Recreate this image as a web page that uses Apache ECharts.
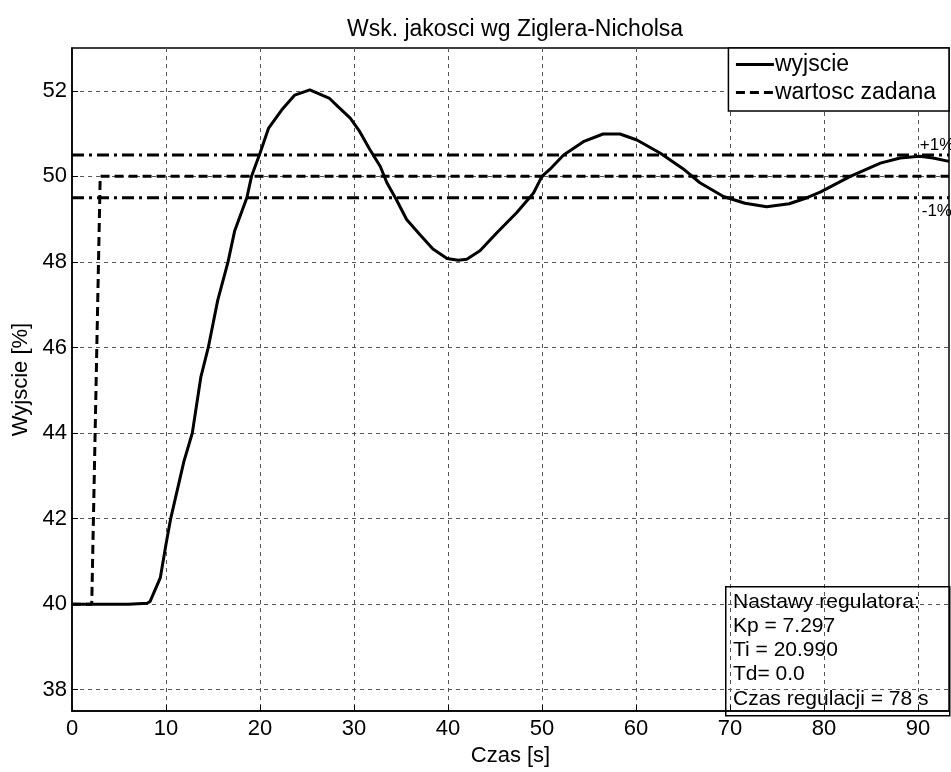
<!DOCTYPE html>
<html>
<head>
<meta charset="utf-8">
<script src="https://cdn.jsdelivr.net/npm/echarts@6/dist/echarts.min.js"></script>
<style>
html,body{margin:0;padding:0;background:#fff;}
#chart{width:951px;height:772px;}
</style>
</head>
<body>
<div id="chart"></div>
<script>
// ---- data ----
var timeOut = [0,2,4,6,8,8.3,9.4,10,10.5,11.9,12.8,13.7,14.5,15.5,16.6,17.3,18.6,19.1,20.0,20.9,22.3,23.7,25.3,27.4,28.3,29.6,30.6,31.7,32.8,33.5,34.5,35.6,37.0,38.4,39.9,41.1,42.0,43.4,45.2,47.3,49.1,50.0,51.0,52.3,54.4,56.5,58.3,60.1,62.6,65.0,66.8,69.3,71.6,73.9,76.3,78.2,79.6,82.8,86.0,88.1,90.2,91.6,93.3];
var wyjscie = [40,40,40,40,40.02,40.06,40.62,41.4,42,43.33,44,45.3,46,47.1,48,48.72,49.5,50,50.54,51.12,51.55,51.9,52.02,51.82,51.63,51.36,51.05,50.62,50.23,49.85,49.46,48.99,48.64,48.3,48.08,48.04,48.06,48.26,48.68,49.15,49.61,50.0,50.2,50.5,50.81,50.99,50.99,50.85,50.54,50.18,49.85,49.53,49.37,49.29,49.36,49.5,49.63,50.0,50.31,50.43,50.47,50.43,50.35];
var timeSet = [0,2.1,3.0,93.3];
var zadana = [40,40,50,50];
var bandTime = [0,93.3];
var bandUpper = [50.5,50.5];
var bandLower = [49.5,49.5];
var xTicks = [0,10,20,30,40,50,60,70,80,90];
var yTicks = [38,40,42,44,46,48,50,52];
var infoLines = ['Nastawy regulatora:','Kp = 7.297','Ti = 20.990','Td= 0.0','Czas regulacji = 78 s'];

function pairs(xs, ys){ return xs.map(function(x,i){ return [x, ys[i]]; }); }

var FONT = 'Liberation Sans, Arial, sans-serif';
var chart = echarts.init(document.getElementById('chart'), null, {renderer:'canvas'});
var gridLine = {show:true, lineStyle:{color:'#555', width:1, type:[4,4]}};

chart.setOption({
  animation:false,
  backgroundColor:'#fff',
  title:{
    text:'Wsk. jakosci wg Ziglera-Nicholsa',
    left:510, textAlign:'center', top:13,
    textStyle:{fontFamily:FONT, fontSize:23, fontWeight:'normal', color:'#000'}
  },
  grid:{left:72, right:2, top:48, bottom:57, show:true, borderColor:'#000', borderWidth:1.5, backgroundColor:'#fff'},
  legend:{
    data:['wyjscie','wartosc zadana'],
    orient:'vertical', right:2, top:48,
    itemWidth:38, itemHeight:14, itemGap:5,
    padding:[5,13,7,6],
    backgroundColor:'#fff', borderColor:'#000', borderWidth:1.5, borderRadius:0,
    itemStyle:{opacity:0, borderWidth:0},
    lineStyle:{width:3},
    textStyle:{fontFamily:FONT, fontSize:23, color:'#000', padding:[0,0,0,-4]},
    z:20
  },
  xAxis:{
    type:'value', min:0, max:93.3,
    name:'Czas [s]', nameLocation:'middle', nameGap:25,
    nameTextStyle:{fontFamily:FONT, fontSize:22, color:'#000'},
    axisLine:{show:true, onZero:false, lineStyle:{color:'#000', width:1.5}},
    axisTick:{show:true, inside:true, length:6, customValues:xTicks, lineStyle:{color:'#000'}},
    axisLabel:{customValues:xTicks, fontFamily:FONT, fontSize:22, color:'#000', margin:7},
    splitLine:gridLine
  },
  yAxis:{
    type:'value', min:37.5, max:53,
    name:'Wyjscie [%]', nameLocation:'middle', nameGap:37, nameRotate:90,
    nameTextStyle:{fontFamily:FONT, fontSize:22, color:'#000'},
    axisLine:{show:true, onZero:false, lineStyle:{color:'#000', width:1.5}},
    axisTick:{show:true, inside:true, length:6, customValues:yTicks, lineStyle:{color:'#000'}},
    axisLabel:{customValues:yTicks, fontFamily:FONT, fontSize:22, color:'#000', margin:5},
    splitLine:gridLine
  },
  series:[
    {
      name:'+1%', type:'line', data:pairs(bandTime, bandUpper), symbol:'none', silent:true,
      lineStyle:{color:'#000', width:3, type:[12,5,3,5]},
      markPoint:{symbol:'circle', symbolSize:0, silent:true,
        data:[{coord:[90.2,50.5]}],
        label:{show:true, formatter:'+1%', position:[0,-18], fontFamily:FONT, fontSize:17, color:'#000'}}
    },
    {
      name:'-1%', type:'line', data:pairs(bandTime, bandLower), symbol:'none', silent:true,
      lineStyle:{color:'#000', width:3, type:[12,5,3,5]},
      markPoint:{symbol:'circle', symbolSize:0, silent:true,
        data:[{coord:[90.4,49.5]}],
        label:{show:true, formatter:'-1%', position:[0,5], fontFamily:FONT, fontSize:17, color:'#000'}}
    },
    {
      name:'wartosc zadana', type:'line', data:pairs(timeSet, zadana), symbol:'none',
      lineStyle:{color:'#000', width:3, type:[9,5]}, itemStyle:{color:'#000'}
    },
    {
      name:'wyjscie', type:'line', data:pairs(timeOut, wyjscie), symbol:'none',
      lineStyle:{color:'#000', width:3}, itemStyle:{color:'#000'}
    }
  ],
  graphic:[
    {type:'rect', left:725, top:586, shape:{width:224, height:129}, z:30,
     style:{fill:'rgba(0,0,0,0)', stroke:'#000', lineWidth:1.5}},
    {type:'text', left:733, top:590, z:31,
     style:{text:infoLines.join('\n'), fontFamily:FONT, fontSize:21, lineHeight:24.2, fill:'#000'}}
  ]
});
</script>
</body>
</html>
